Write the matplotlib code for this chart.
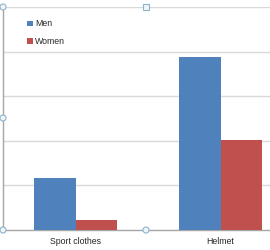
import numpy as np
import matplotlib
matplotlib.use('Agg')
import matplotlib.pyplot as plt
from matplotlib.patches import Circle, Rectangle
from matplotlib.transforms import IdentityTransform

plt.rcParams['font.family'] = ['Liberation Sans', 'DejaVu Sans']

# 数据
categories = ['Sport clothes', 'Helmet']
men = [1.16, 3.87]
women = [0.22, 2.01]

fig = plt.figure(figsize=(2.7, 2.5), dpi=100)
W, H = 270, 250
# 绘图区（右侧被截掉）
ax = fig.add_axes([3 / W, 20 / H, 290 / W, 223 / H])

x = np.arange(len(categories))
bw = 0.285
ax.bar(x - bw / 2, men, bw, color='#4F81BD', label='Men', zorder=3)
ax.bar(x + bw / 2, women, bw, color='#C0504D', label='Women', zorder=3)

ax.set_xlim(-0.5, 1.5)
ax.set_ylim(0, 5)
ax.set_yticks([1, 2, 3, 4, 5])
ax.yaxis.grid(True, color='#d9d9d9', linewidth=1.0, zorder=0)
ax.tick_params(axis='y', left=False, labelleft=False)
ax.set_xticks(x)
ax.set_xticklabels(categories, fontsize=6.3, color='#262626')
ax.tick_params(axis='x', length=0, pad=5)

for s in ['top', 'right']:
    ax.spines[s].set_visible(False)
for s in ['left', 'bottom']:
    ax.spines[s].set_color('#a6a6a6')
    ax.spines[s].set_linewidth(1.0)

# 图例
leg = ax.legend(loc='upper left', bbox_to_anchor=(23 / W, 1 - 15 / H),
                bbox_transform=fig.transFigure, frameon=False, fontsize=6.3,
                handlelength=0.6, handleheight=0.6, handletextpad=0.25,
                labelspacing=1.0, borderpad=0)
for t in leg.get_texts():
    t.set_color('#262626')

# 选择手柄（Excel 图表选中状态）
tr = IdentityTransform()
handle_color = '#8fb3c9'
for (hx, hy) in [(3, H - 7), (3, H - 118), (3, H - 230), (146, H - 230)]:
    fig.add_artist(Circle((hx, hy), 3, transform=tr, facecolor='#eef6fb',
                          edgecolor=handle_color, linewidth=0.8, zorder=10))
fig.add_artist(Rectangle((143, H - 10), 6, 6, transform=tr, facecolor='#eef6fb',
                         edgecolor=handle_color, linewidth=0.8, zorder=10))

fig.savefig('out.png', dpi=100)
